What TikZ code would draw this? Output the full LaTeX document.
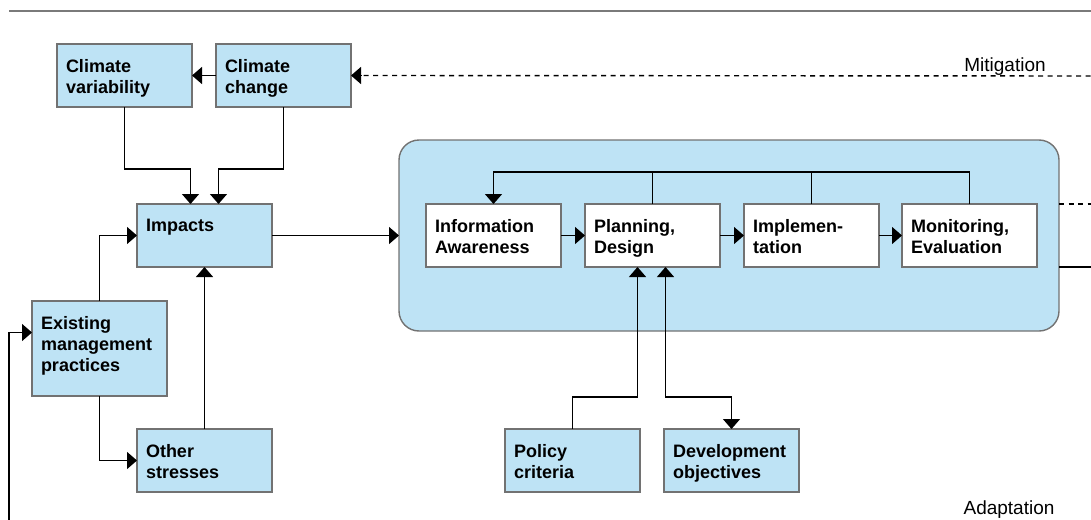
\documentclass[tikz,border=0pt]{standalone}
\usepackage{fontspec}
\setmainfont{Liberation Sans}
\usetikzlibrary{arrows.meta}
\definecolor{boxblue}{HTML}{BEE3F5}
\definecolor{boxline}{HTML}{727272}
\definecolor{rulegray}{HTML}{7A7A7A}
\begin{document}
\begin{tikzpicture}[x=1pt,y=-1pt,
  box/.style={draw=boxline, line width=1.4pt, fill=boxblue, minimum width=135pt, minimum height=63pt, anchor=north west, inner sep=0pt, outer sep=0pt},
  wbox/.style={box, fill=white},
  lbl/.style={anchor=north west, inner sep=0pt, outer sep=0pt, align=left, xshift=9pt, yshift=-15pt, font=\fontsize{18}{21}\selectfont\bfseries},
  conn/.style={line width=1.4pt, black},
  arr/.style={conn, -{Triangle[length=10pt,width=17pt]}},
  arrb/.style={conn, {Triangle[length=10pt,width=17pt]}-{Triangle[length=10pt,width=17pt]}},
  dsh/.style={conn, dash pattern=on 5pt off 4.5pt},
  plain/.style={font=\fontsize{19}{22}\selectfont, inner sep=0pt}
]
\useasboundingbox (0,0) rectangle (1091,519);

% top rule
\coordinate (r0) at (9,11);
\coordinate (r1) at (1095,11);
\draw[rulegray, line width=1.4pt] (r0) -- (r1);

% big process box
\node[draw=boxline, line width=1.4pt, fill=boxblue, rounded corners=20pt, minimum width=660pt, minimum height=191pt, anchor=north west, inner sep=0pt, outer sep=0pt] (big) at (399,140) {};

% boxes
\node[box, label={[lbl]north west:{Climate\\variability}}] (cv) at (57,44) {};
\node[box, label={[lbl]north west:{Climate\\change}}] (cc) at (216,44) {};
\node[box, label={[lbl]north west:{Impacts}}] (imp) at (137,204) {};
\node[box, minimum height=95pt, label={[lbl]north west:{Existing\\management\\practices}}] (emp) at (32,301) {};
\node[box, label={[lbl]north west:{Other\\stresses}}] (oth) at (137,429) {};
\node[box, label={[lbl]north west:{Policy\\criteria}}] (pol) at (505,429) {};
\node[box, label={[lbl]north west:{Development\\objectives}}] (dev) at (664,429) {};

\node[wbox, label={[lbl]north west:{Information\\Awareness}}] (info) at (426,204) {};
\node[wbox, label={[lbl]north west:{Planning,\\Design}}] (plan) at (585,204) {};
\node[wbox, label={[lbl]north west:{Implemen-\\tation}}] (impl) at (744,204) {};
\node[wbox, label={[lbl]north west:{Monitoring,\\Evaluation}}] (mon) at (902,204) {};

% labels
\node[plain, anchor=base] (mit) at (1005,71) {Mitigation};
\node[plain, anchor=base] (ada) at (1009,514) {Adaptation};

% free ends
\coordinate (mitend) at (1100,76);
\coordinate (dashend) at (1100,204);
\coordinate (solidend) at (1100,267);
\coordinate (leftend) at (9,530);

% connectors
\draw[arr] (cc.west) -- (cv.east);
\draw[dsh] (mitend) -- ([xshift=10pt]cc.east);
\draw[arr] ([xshift=10pt]cc.east) -- (cc.east);

\draw[arr] (cv.south) -- ++(0,62) -| ([xshift=-14pt]imp.north);
\draw[arr] (cc.south) -- ++(0,62) -| ([xshift=14pt]imp.north);

\draw[arr] (imp.east) -- (big.west);

\draw[arr] (info.east) -- (plan.west);
\draw[arr] (plan.east) -- (impl.west);
\draw[arr] (impl.east) -- (mon.west);

\draw[arr] (mon.north) -- ++(0,-32) -| (info.north);
\draw[conn] (plan.north) -- ++(0,-32);
\draw[conn] (impl.north) -- ++(0,-32);

\draw[dsh] (big.east |- info.north) -- (dashend);
\draw[conn] (big.east |- info.south) -- (solidend);

\draw[arr] (pol.north) -- ++(0,-32) -| ([xshift=-15pt]plan.south);
\draw[arrb] ([xshift=13pt]plan.south) -- ++(0,130) -| (dev.north);

\draw[arr] (emp.north) |- (imp.west);
\draw[arr] (emp.south) |- (oth.west);
\draw[arr] (oth.north) -- (imp.south);
\draw[arr] (leftend) |- ([yshift=16pt]emp.west);
\end{tikzpicture}
\end{document}
